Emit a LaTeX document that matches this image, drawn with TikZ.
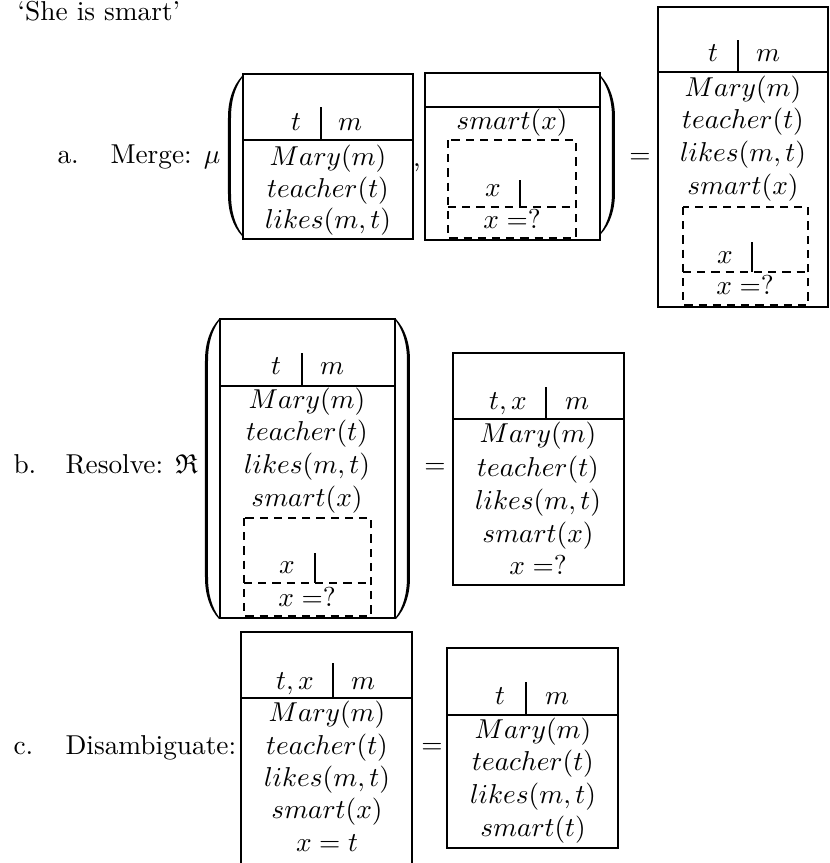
\documentclass[tikz,border=0pt]{standalone}
\usepackage{amssymb}
% Large parenthesis drawn as a filled crescent.
% #1 x of the tips, #2 top y, #3 bottom y, #4 signed bulge, #5 signed stroke width
\newcommand\drsparen[5]{%
  \fill ({#1},{#2}) .. controls ({#1-0.65*(#4)},{#2+10}) and ({#1-(#4)},{#2+24}) .. ({#1-(#4)},{#2+42})
    -- ({#1-(#4)},{#3-42}) .. controls ({#1-(#4)},{#3-24}) and ({#1-0.65*(#4)},{#3-10}) .. ({#1},{#3})
    -- ({#1+0.1*(#5)},{#3-1.5}) .. controls ({#1-0.65*(#4)+0.8*(#5)},{#3-11}) and ({#1-(#4)+(#5)},{#3-24}) .. ({#1-(#4)+(#5)},{#3-42})
    -- ({#1-(#4)+(#5)},{#2+42}) .. controls ({#1-(#4)+(#5)},{#2+24}) and ({#1-0.65*(#4)+0.8*(#5)},{#2+11}) .. ({#1+0.1*(#5)},{#2+1.5}) -- cycle;}
\begin{document}
\begin{tikzpicture}[x=0.366pt,y=-0.366pt,
  box/.style={line width=0.5pt},
  dbox/.style={line width=0.5pt,dash pattern=on 3pt off 2.2pt},
  txt/.style={inner sep=0pt,text height=7.5pt,text depth=2.5pt},
  lbl/.style={txt,anchor=west}]
\useasboundingbox (0,0) rectangle (830,863);
\fill[white] (0,0) rectangle (830,863);

\node[inner sep=0pt,anchor=base west] (title) at (17,20) {`She is smart'};

% ---------- a. Merge ----------
\node[lbl] (la) at (57,157) {a.};
\node[lbl] (na) at (110,157) {Merge: $\mu$};
\drsparen{242}{76}{236}{14}{3}
% first DRS
\draw[box] (243,74) rectangle (413,239);
\draw[box] (243,140) -- (413,140);
\draw[box] (321,107) -- (321,140);
\node[txt] (a1t) at (296,124) {$t$};
\node[txt] (a1m) at (350,124) {$m$};
\node[txt] (a1c1) at (328,159) {$Mary(m)$};
\node[txt] (a1c2) at (328,191) {$teacher(t)$};
\node[txt] (a1c3) at (328,222) {$likes(m,t)$};
\node[txt] (acomma) at (417,160) {,};
% second DRS
\draw[box] (425,73) rectangle (600,240);
\draw[box] (425,107) -- (600,107);
\node[txt] (a2c1) at (512,123) {$smart(x)$};
\draw[dbox] (448,140) rectangle (576,238);
\draw[dbox] (448,207) -- (576,207);
\draw[box] (520,180) -- (520,207);
\node[txt] (a2x) at (493,190) {$x$};
\node[txt] (a2q) at (512,222) {$x=?$};
\drsparen{601}{76}{234}{-14}{-3}
\node[txt] (aeq) at (640,157) {$=$};
% merged DRS
\draw[box] (658,7) rectangle (828,307);
\draw[box] (658,72) -- (828,72);
\draw[box] (738,40) -- (738,72);
\node[txt] (a3t) at (713,55) {$t$};
\node[txt] (a3m) at (768,55) {$m$};
\node[txt] (a3c1) at (743,90) {$Mary(m)$};
\node[txt] (a3c2) at (743,122) {$teacher(t)$};
\node[txt] (a3c3) at (743,155) {$likes(m,t)$};
\node[txt] (a3c4) at (743,188) {$smart(x)$};
\draw[dbox] (683,207) rectangle (808,305);
\draw[dbox] (683,272) -- (808,272);
\draw[box] (752,242) -- (752,272);
\node[txt] (a3x) at (725,257) {$x$};
\node[txt] (a3q) at (745,288) {$x=?$};

% ---------- b. Resolve ----------
\node[lbl] (lb) at (13,467) {b.};
\node[lbl] (nb) at (65,467) {Resolve: $\mathfrak{R}$};
\drsparen{219}{319}{619}{14}{3}
\draw[box] (220,319) rectangle (395,618);
\draw[box] (220,386) -- (395,386);
\draw[box] (302,353) -- (302,386);
\node[txt] (b1t) at (276,368) {$t$};
\node[txt] (b1m) at (332,368) {$m$};
\node[txt] (b1c1) at (307,402) {$Mary(m)$};
\node[txt] (b1c2) at (307,434) {$teacher(t)$};
\node[txt] (b1c3) at (307,467) {$likes(m,t)$};
\node[txt] (b1c4) at (307,500) {$smart(x)$};
\draw[dbox] (244,518) rectangle (371,616);
\draw[dbox] (244,583) -- (371,583);
\draw[box] (315,553) -- (315,583);
\node[txt] (b1x) at (287,567) {$x$};
\node[txt] (b1q) at (307,600) {$x=?$};
\drsparen{396}{319}{619}{-14}{-3}
\node[txt] (beq) at (435,467) {$=$};
\draw[box] (453,353) rectangle (624,585);
\draw[box] (453,419) -- (624,419);
\draw[box] (546,387) -- (546,419);
\node[txt] (b2t) at (508,403) {$t,x$};
\node[txt] (b2m) at (577,403) {$m$};
\node[txt] (b2c1) at (538,436) {$Mary(m)$};
\node[txt] (b2c2) at (538,470) {$teacher(t)$};
\node[txt] (b2c3) at (538,503) {$likes(m,t)$};
\node[txt] (b2c4) at (538,536) {$smart(x)$};
\node[txt] (b2c5) at (538,568) {$x=?$};

% ---------- c. Disambiguate ----------
\node[lbl] (lc) at (13,748) {c.};
\node[lbl] (nc) at (65,748) {Disambiguate:};
\draw[box] (241,632) rectangle (412,875);
\draw[box] (241,698) -- (412,698);
\draw[box] (333,663) -- (333,698);
\node[txt] (c1t) at (295,683) {$t,x$};
\node[txt] (c1m) at (363,683) {$m$};
\node[txt] (c1c1) at (327,715) {$Mary(m)$};
\node[txt] (c1c2) at (327,748) {$teacher(t)$};
\node[txt] (c1c3) at (327,780) {$likes(m,t)$};
\node[txt] (c1c4) at (327,812) {$smart(x)$};
\node[txt] (c1c5) at (327,845) {$x=t$};
\node[txt] (ceq) at (432,747) {$=$};
\draw[box] (447,648) rectangle (618,848);
\draw[box] (447,715) -- (618,715);
\draw[box] (526,682) -- (526,715);
\node[txt] (c2t) at (500,698) {$t$};
\node[txt] (c2m) at (557,698) {$m$};
\node[txt] (c2c1) at (533,732) {$Mary(m)$};
\node[txt] (c2c2) at (533,764) {$teacher(t)$};
\node[txt] (c2c3) at (533,797) {$likes(m,t)$};
\node[txt] (c2c4) at (533,830) {$smart(t)$};
\end{tikzpicture}
\end{document}
